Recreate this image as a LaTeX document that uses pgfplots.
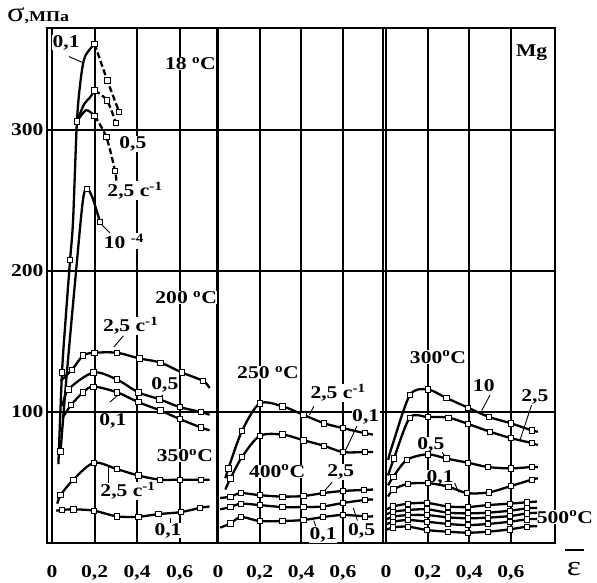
\documentclass[border=0pt]{standalone}
\usepackage{fontspec}
\setmainfont{Liberation Serif}[FakeStretch=1.2]
\usepackage{pgfplots}
\pgfplotsset{compat=1.18}
\newcommand\fsz{\fontsize{18}{20}\selectfont}
\tikzset{
  lbl/.style={font=\fsz\bfseries, fill=white, inner sep=0.5pt},
  ldr/.style={line width=0.9pt},
}
\pgfplotsset{
  panel/.style={
    scale only axis, height=515pt, ymin=7.1, ymax=372.3,
    anchor=south west,
    grid=major, major grid style={black, line width=2pt},
    axis line style={line width=2pt},
    major tick length=0pt,
    xtick={0,0.2,0.4,0.6}, xticklabels={0,{0,2},{0,4},{0,6}},
    ytick={100,200,300},
    xticklabel style={font=\fsz\bfseries, anchor=base, yshift=-34pt},
    yticklabel style={font=\fsz\bfseries},
    clip=false,
  },
  crv/.style={black, line width=2.3pt, smooth, tension=0.5, mark=square*, mark size=2.7pt,
    mark options={solid, fill=white, line width=0.8pt}},
  dcrv/.style={crv, dash pattern=on 6pt off 3pt},
}
\begin{document}
\begin{tikzpicture}
% ---------- panel 2 ----------
\begin{axis}[panel, at={(217pt,-543pt)}, width=166pt, xmin=-0.005, xmax=0.793, yticklabels={}]
\node[lbl] at (axis cs:0.24,128) {250 \textsuperscript{o}C};
\node[lbl] at (axis cs:0.577,113.5) {2,5 с\textsuperscript{-1}};
\node[lbl] at (axis cs:0.71,96.5) {0,1};
\node[lbl] at (axis cs:0.284,58) {400\textsuperscript{o}C};
\node[lbl] at (axis cs:0.59,57.5) {2,5};
\node[lbl] at (axis cs:0.505,13) {0,1};
\node[lbl] at (axis cs:0.69,15.6) {0,5};
\draw[ldr] (axis cs:0.46,104)--(axis cs:0.44,98);
\draw[ldr] (axis cs:0.668,90)--(axis cs:0.61,72);
\draw[ldr] (axis cs:0.548,50)--(axis cs:0.505,43);
\draw[ldr] (axis cs:0.67,23)--(axis cs:0.65,32);
\draw[ldr] (axis cs:0.47,19)--(axis cs:0.46,23);
\addplot[crv, mark indices={2,3,4,5,6,7,8,9}] coordinates {(0.035,53) (0.05,60) (0.115,86.5) (0.20,106) (0.31,104) (0.41,98) (0.51,92) (0.60,88.6) (0.705,85) (0.745,84)};
\addplot[crv, mark indices={2,3,4,5,6,7,8,9}] coordinates {(0.035,45) (0.06,53) (0.115,68) (0.20,83) (0.31,84) (0.41,80) (0.51,76) (0.60,71.6) (0.705,71.6) (0.745,71.6)};
\addplot[crv, mark indices={2,3,4,5,6,7,8,9}] coordinates {(0.01,39) (0.06,40) (0.11,42.5) (0.20,41) (0.31,40) (0.41,40.4) (0.505,42.5) (0.60,44) (0.70,44.7) (0.745,45)};
\addplot[crv, mark indices={2,3,4,5,6,7,8,9}] coordinates {(0.01,31) (0.06,32.6) (0.11,35) (0.20,34) (0.31,32.6) (0.41,32.6) (0.505,33) (0.60,35.5) (0.705,37.6) (0.745,38)};
\addplot[crv, mark indices={2,3,4,5,6,7,8,9}] coordinates {(0.01,18) (0.06,21) (0.11,25.5) (0.20,22.7) (0.31,22.7) (0.41,23.4) (0.505,25.5) (0.60,27) (0.705,26) (0.745,26)};
\end{axis}
% ---------- panel 3 ----------
\begin{axis}[panel, at={(383pt,-543pt)}, width=172pt, xmin=-0.0144, xmax=0.8125, yticklabels={}]
\node[lbl] at (axis cs:0.25,139) {300\textsuperscript{o}C};
\node[lbl] at (axis cs:0.47,119) {10};
\node[lbl] at (axis cs:0.716,111) {2,5};
\node[lbl] at (axis cs:0.216,76.6) {0,5};
\node[lbl] at (axis cs:0.26,53) {0,1};
\node[lbl] at (axis cs:0.86,25.5) {500\textsuperscript{o}C};
\node[lbl] at (axis cs:0.70,355) {Mg};
\draw[ldr] (axis cs:0.50,112)--(axis cs:0.46,101);
\draw[ldr] (axis cs:0.70,105)--(axis cs:0.644,80);
\draw[ldr] (axis cs:0.27,71.6)--(axis cs:0.29,67);
\draw[ldr] (axis cs:0.33,49.6)--(axis cs:0.35,43);
\addplot[crv, mark indices={3,4,5,6,7,8,9}] coordinates {(0.01,66) (0.034,78) (0.115,112) (0.20,116) (0.29,110) (0.395,103) (0.495,96.5) (0.60,92) (0.70,87) (0.73,86)};
\addplot[crv, mark indices={2,3,4,5,6,7,8,9}] coordinates {(0.01,55) (0.038,67) (0.115,96) (0.20,96.4) (0.30,96) (0.395,91.5) (0.50,86) (0.60,81.5) (0.70,78) (0.73,76.5)};
\addplot[crv, mark indices={2,3,4,5,6,7,8,9}] coordinates {(0.01,48) (0.035,54) (0.10,66) (0.20,70) (0.29,67) (0.395,64) (0.49,61) (0.60,60) (0.70,61) (0.73,61)};
\addplot[crv, mark indices={2,3,4,5,6,7,8,9}] coordinates {(0.01,40) (0.035,45) (0.105,49) (0.20,49.6) (0.30,47) (0.39,42.5) (0.495,43) (0.60,47.5) (0.70,52) (0.73,53)};
\addplot[crv, mark indices={2,3,4,5,6,7,8,9}] coordinates {(0.005,31) (0.034,33) (0.106,35) (0.197,35.5) (0.298,33) (0.394,32.6) (0.49,34) (0.596,35) (0.678,36) (0.726,36.5)};
\addplot[crv, mark indices={2,3,4,5,6,7,8,9}] coordinates {(0.005,27.5) (0.034,29.3) (0.106,30.5) (0.197,31) (0.298,28.6) (0.394,28.1) (0.49,28.6) (0.596,30) (0.678,31.7) (0.726,32)};
\addplot[crv, mark indices={2,3,4,5,6,7,8,9}] coordinates {(0.005,24) (0.034,25.8) (0.106,26.9) (0.197,26.9) (0.298,25.3) (0.394,24.6) (0.49,25.1) (0.596,26.2) (0.678,28.1) (0.726,28.5)};
\addplot[crv, mark indices={2,3,4,5,6,7,8,9}] coordinates {(0.005,20.5) (0.034,22.2) (0.106,23.4) (0.197,22.2) (0.298,20.6) (0.394,19.8) (0.49,20.6) (0.596,22.2) (0.678,23.9) (0.726,24.2)};
\addplot[crv, mark indices={2,3,4,5,6,7,8,9}] coordinates {(0.005,16.5) (0.034,18.2) (0.106,18.7) (0.197,16.3) (0.298,15.1) (0.394,14.4) (0.49,15.1) (0.596,16.8) (0.678,18.7) (0.726,19)};
\end{axis}
% ---------- panel 1 ----------
\begin{axis}[panel, at={(47pt,-543pt)}, width=170pt, xmin=-0.0235, xmax=0.775, yticklabels={100,200,300}]
\node[lbl] at (axis cs:0.066,362) {0,1};
\node[lbl] at (axis cs:0.65,347) {18 \textsuperscript{o}C};
\node[lbl] at (axis cs:0.38,290) {0,5};
\node[lbl] at (axis cs:0.39,257) {2,5 с\textsuperscript{-1}};
\node[lbl] at (axis cs:0.338,221) {10 \textsuperscript{-4}};
\node[lbl] at (axis cs:0.63,181) {200 \textsuperscript{o}C};
\node[lbl] at (axis cs:0.37,161) {2,5 с\textsuperscript{-1}};
\node[lbl] at (axis cs:0.53,119) {0,5};
\node[lbl] at (axis cs:0.286,94) {0,1};
\node[lbl] at (axis cs:0.624,69) {350\textsuperscript{o}C};
\node[lbl] at (axis cs:0.357,44) {2,5 с\textsuperscript{-1}};
\node[lbl] at (axis cs:0.545,16) {0,1};
\draw[ldr] (axis cs:0.08,352)--(axis cs:0.141,348);
\draw[ldr] (axis cs:0.225,234)--(axis cs:0.272,227);
\draw[ldr] (axis cs:0.29,146)--(axis cs:0.335,154);
\draw[ldr] (axis cs:0.52,112)--(axis cs:0.49,108);
\draw[ldr] (axis cs:0.272,107)--(axis cs:0.31,112);
\draw[ldr] (axis cs:0.263,61)--(axis cs:0.263,50);
\draw[ldr] (axis cs:0.554,25)--(axis cs:0.554,21);
% 18 C
\addplot[crv, mark indices={2,4,6,9}] coordinates {(0.03,63) (0.047,128) (0.065,168) (0.085,208) (0.099,236) (0.117,306) (0.135,336) (0.155,352) (0.20,361)};
\addplot[dcrv, mark indices={2,3}] coordinates {(0.20,361) (0.26,335) (0.315,313)};
\addplot[crv, mark indices={4}] coordinates {(0.117,306) (0.15,318) (0.178,323) (0.20,328)};
\addplot[dcrv, mark indices={2,3}] coordinates {(0.20,328) (0.258,321) (0.30,305)};
\addplot[crv, mark indices={3}] coordinates {(0.117,306) (0.16,314) (0.20,310)};
\addplot[dcrv, mark indices={2,3}] coordinates {(0.20,310) (0.255,295) (0.296,271) (0.302,264)};
\addplot[crv, mark indices={1,5,7}] coordinates {(0.04,72) (0.07,128) (0.11,195) (0.145,250) (0.165,258) (0.19,252) (0.225,235)};
% 200 C
\addplot[crv, mark indices={2,3,4,5,6,7,8,9}] coordinates {(0.04,122) (0.094,130) (0.146,140) (0.20,142) (0.305,142) (0.41,138) (0.51,135) (0.61,128) (0.71,122) (0.74,117)};
\addplot[crv, mark indices={2,3,4,5,6,7,8}] coordinates {(0.05,104) (0.077,116) (0.195,128) (0.305,123) (0.405,114) (0.505,109) (0.60,103.5) (0.70,100) (0.74,98)};
\addplot[crv, mark indices={2,3,4,5,6,7,8,9}] coordinates {(0.05,96) (0.09,105) (0.146,114) (0.195,118) (0.305,114) (0.405,107) (0.51,101) (0.60,95) (0.70,89) (0.74,87)};
% 350 C
\addplot[crv, mark indices={2,3,4,5,6,7,8,9}] coordinates {(0.025,35) (0.04,41) (0.10,52) (0.197,64) (0.305,59.5) (0.405,55) (0.507,52) (0.60,52) (0.70,52) (0.74,52)};
\addplot[crv, mark indices={2,3,4,5,6,7,8,9}] coordinates {(0.02,30) (0.047,30.5) (0.10,31) (0.197,30) (0.305,26) (0.405,25.7) (0.50,27.6) (0.605,29) (0.695,32) (0.74,33)};
\end{axis}
% ---------- outer texts ----------
\node[anchor=base west, inner sep=0pt] at (7pt,-22pt) {{\fontsize{27}{27}\selectfont σ}{\fontsize{15}{16}\selectfont\bfseries ,МПа}};
\node[anchor=base, inner sep=0pt] at (574pt,-575pt) {\fontsize{28}{28}\selectfont ε};
\draw[line width=1.4pt] (565pt,-550pt) -- (584pt,-550pt);
\pgfresetboundingbox
\path[use as bounding box] (0,0) rectangle (597pt,-583pt);
\end{tikzpicture}
\end{document}
